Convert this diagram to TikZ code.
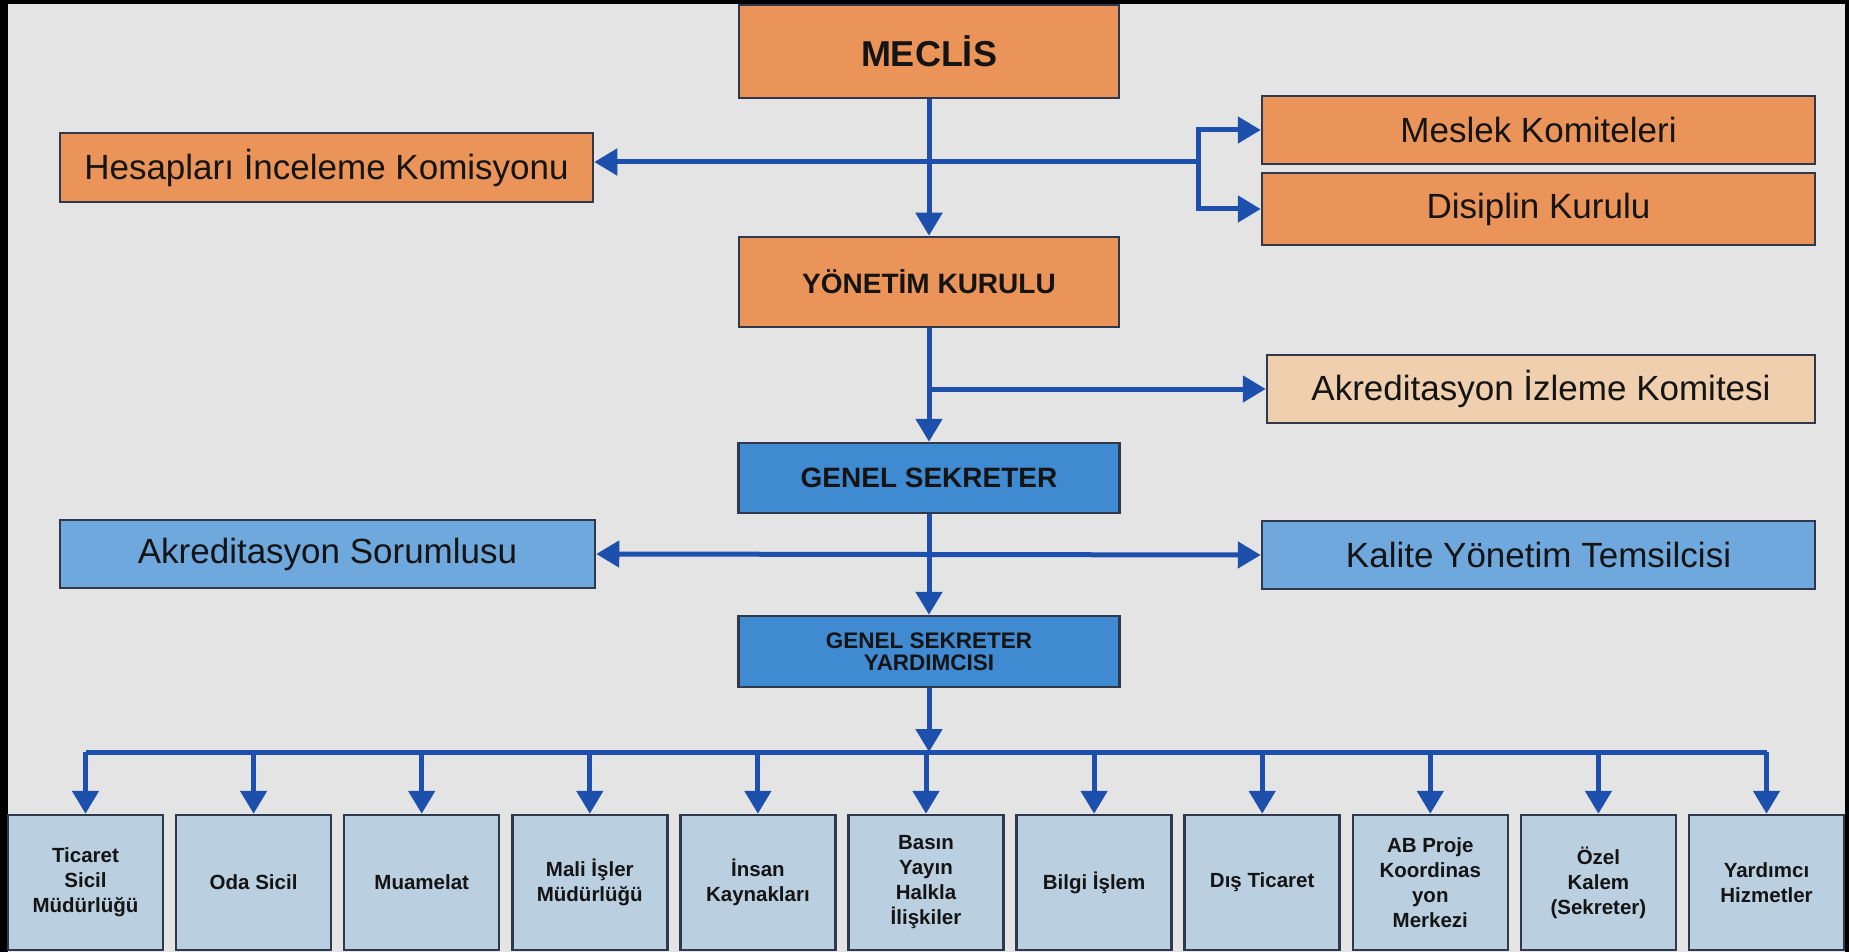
\documentclass[tikz,border=0pt]{standalone}
\usepackage{fontspec}
\setmainfont{Liberation Sans}
\usetikzlibrary{arrows.meta}
\definecolor{bgc}{RGB}{228,228,228}
\definecolor{orangec}{RGB}{234,148,90}
\definecolor{peachc}{RGB}{240,207,175}
\definecolor{midblue}{RGB}{111,168,220}
\definecolor{darkblue}{RGB}{64,138,210}
\definecolor{lightblue}{RGB}{186,207,224}
\definecolor{linec}{RGB}{28,80,172}
\definecolor{bordc}{RGB}{48,56,76}
\newcommand\myfs[2]{\fontsize{#1}{#2}\selectfont}
\tikzset{
  box/.style={draw=bordc, line width=2.5pt, inner sep=0pt, align=center, text=black!92},
  orangebox/.style={box, fill=orangec},
  peachbox/.style={box, fill=peachc},
  sidebluebox/.style={box, fill=midblue},
  corebluebox/.style={box, fill=darkblue},
  unitbox/.style={box, fill=lightblue, minimum width=155pt, minimum height=135pt, font=\myfs{20.5}{25}\bfseries},
  sidetext/.style={font=\myfs{35}{40}},
  conn/.style={draw=linec, line width=5pt},
  arr/.style={conn, -{Triangle[width=26pt,length=23pt]}},
  darr/.style={conn, {Triangle[width=26pt,length=23pt]}-{Triangle[width=26pt,length=23pt]}}
}
\begin{document}
\begin{tikzpicture}[x=1pt,y=-1pt]
\useasboundingbox (0,0) rectangle (1849,952);
\fill[black] (0,0) rectangle (1849,952);
\fill[bgc] (8,4) rectangle (1845,952);

% central column
\node[orangebox, minimum width=380pt, minimum height=93pt, font=\myfs{36}{40}\bfseries] (meclis) at (929,51.5) {MECLİS};
\node[orangebox, minimum width=380pt, minimum height=90pt, font=\myfs{28}{32}\bfseries] (yk) at (929,282) {YÖNETİM KURULU};
\node[corebluebox, minimum width=381pt, minimum height=70pt, font=\myfs{28}{32}\bfseries] (gs) at (929,478) {GENEL SEKRETER};
\node[corebluebox, minimum width=381pt, minimum height=71pt, font=\myfs{22.5}{22}\bfseries] (gsy) at (929,651.5) {GENEL SEKRETER\\YARDIMCISI};

% side boxes
\node[orangebox, sidetext, minimum width=533pt, minimum height=69pt] (hesap) at (326.5,167.5) {Hesapları İnceleme Komisyonu};
\node[orangebox, sidetext, minimum width=553pt, minimum height=68pt] (meslek) at (1538.5,130) {Meslek Komiteleri};
\node[orangebox, sidetext, minimum width=553pt, minimum height=72pt] (disiplin) at (1538.5,209) {Disiplin Kurulu};
\node[peachbox, sidetext, minimum width=548pt, minimum height=68pt] (izleme) at (1541,389) {Akreditasyon İzleme Komitesi};
\node[sidebluebox, sidetext, minimum width=535pt, minimum height=68pt] (akrsor) at (327.5,554) {Akreditasyon Sorumlusu};
\node[sidebluebox, sidetext, minimum width=553pt, minimum height=68pt] (kalite) at (1538.5,555) {Kalite Yönetim Temsilcisi};

% bottom units
\node[unitbox] (u0) at (85.5,882.5) {Ticaret\\Sicil\\Müdürlüğü};
\node[unitbox] (u1) at (253.6,882.5) {Oda Sicil};
\node[unitbox] (u2) at (421.7,882.5) {Muamelat};
\node[unitbox] (u3) at (589.8,882.5) {Mali İşler\\Müdürlüğü};
\node[unitbox] (u4) at (757.9,882.5) {İnsan\\Kaynakları};
\node[unitbox] (u5) at (926.0,882.5) {Basın\\Yayın\\Halkla\\İlişkiler};
\node[unitbox] (u6) at (1094.1,882.5) {Bilgi İşlem};
\node[unitbox] (u7) at (1262.2,882.5) {Dış Ticaret};
\node[unitbox] (u8) at (1430.3,882.5) {AB Proje\\Koordinas\\yon\\Merkezi};
\node[unitbox] (u9) at (1598.4,882.5) {Özel\\Kalem\\(Sekreter)};
\node[unitbox] (u10) at (1766.5,882.5) {Yardımcı\\Hizmetler};

% connectors
\coordinate (br) at (1198,162);
\draw[conn] (meclis.south |- br) -- (br);
\draw[arr] (br) -- (hesap.east |- br);
\draw[arr] (br) |- (meslek.west);
\draw[arr] (br) |- (disiplin.west);
\draw[arr] (meclis.south) -- (yk.north);
\draw[arr] (yk.south) -- (gs.north);
\draw[arr] (yk.south |- izleme.west) -- (izleme.west);
\draw[darr] (akrsor.east) -- (kalite.west);
\draw[arr] (gs.south) -- (gsy.north);

\coordinate (bus) at (929,752);
\draw[conn, line join=miter] (u0.north |- bus) -- (u10.north |- bus);
\draw[arr] (gsy.south) -- (bus);
\foreach \i in {0,...,10} {
  \draw[arr] (u\i.north |- bus) -- (u\i.north);
}
\end{tikzpicture}
\end{document}
